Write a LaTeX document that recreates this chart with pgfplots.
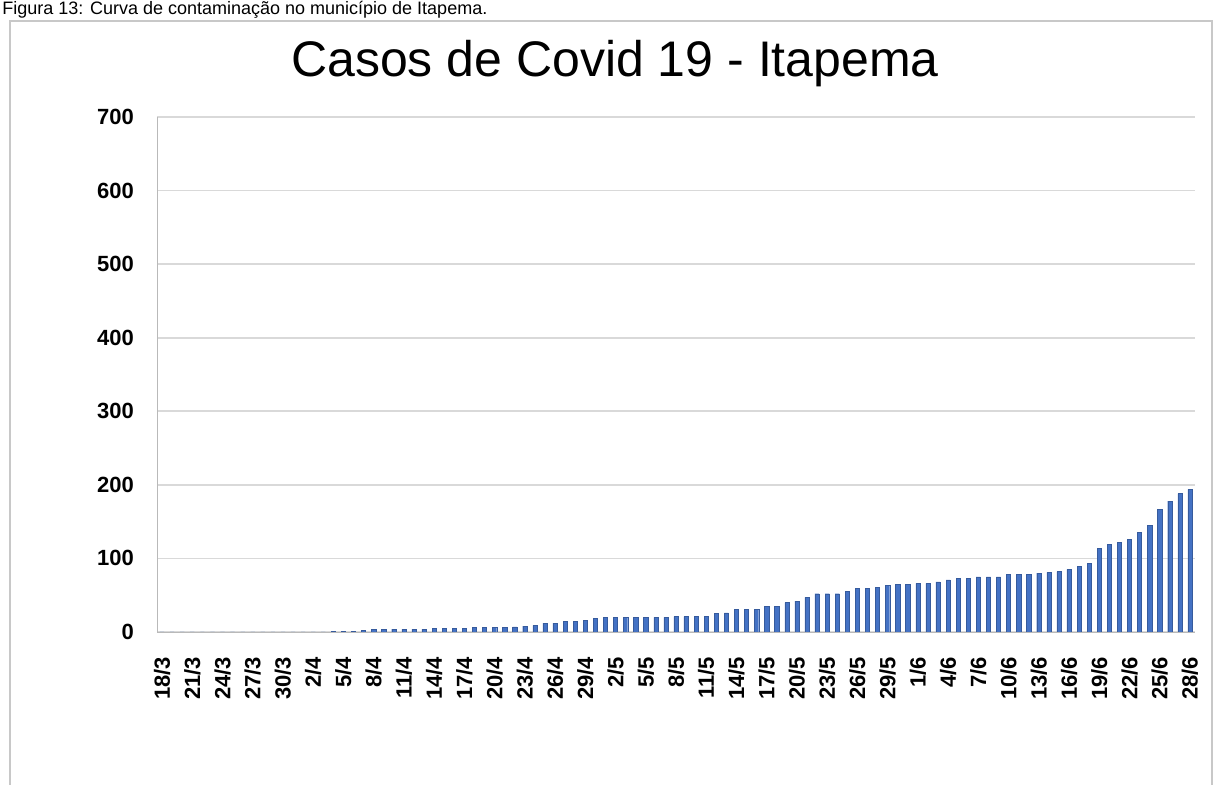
\documentclass[border=0pt]{standalone}
\usepackage{fontspec}
\setmainfont{Liberation Sans}
\usepackage{pgfplots}
\usepackage{pgfplotstable}
\pgfplotsset{compat=1.18}
\definecolor{barblue}{HTML}{4472C4}
\definecolor{gridgray}{HTML}{D9D9D9}
\definecolor{framegray}{HTML}{C8C8C8}

% cumulative cases, day 0 = 18/3 ... day 102 = 28/6
\pgfplotstableread{
day cases
0 0
1 0
2 0
3 0
4 0
5 0
6 0
7 0
8 0
9 0
10 0
11 0
12 0
13 0
14 0
15 0
16 0
17 1
18 1
19 1
20 2
21 4
22 4
23 4
24 4
25 4
26 4
27 5
28 5
29 5
30 5
31 6
32 6
33 6
34 6
35 7
36 8
37 9
38 12
39 12
40 14
41 14
42 16
43 19
44 20
45 20
46 20
47 20
48 20
49 20
50 20
51 21
52 21
53 21
54 21
55 25
56 26
57 31
58 31
59 31
60 35
61 35
62 40
63 42
64 47
65 52
66 52
67 52
68 55
69 59
70 59
71 61
72 63
73 65
74 65
75 66
76 66
77 68
78 71
79 73
80 73
81 75
82 75
83 75
84 78
85 78
86 78
87 80
88 81
89 82
90 85
91 89
92 93
93 114
94 119
95 122
96 126
97 135
98 145
99 167
100 178
101 188
102 194
}\casos

\begin{document}
\begin{tikzpicture}
\useasboundingbox (0,0) rectangle (607.5pt,392.5pt);
% caption above the chart
\node[anchor=base west, inner sep=0, font=\fontsize{9}{11}\selectfont]
  at (1pt,385.3pt) {Figura 13: Curva de contaminação no município de Itapema.};
% chart area frame
\draw[framegray, line width=1.2pt] (5pt,-5pt) -- (5pt,382pt) -- (606pt,382pt) -- (606pt,-5pt);
\node[anchor=base, inner sep=0, font=\fontsize{25}{30}\selectfont]
  at (307.5pt,354pt) {Casos de Covid 19 - Itapema};

\begin{axis}[
    at={(78.5pt,76.5pt)}, anchor=south west,
    scale only axis,
    width=519pt, height=257.5pt,
    ybar, bar width=2.1pt,
    xmin=-0.5, xmax=102.5,
    ymin=0, ymax=700,
    ytick={0,100,...,700},
    xtick={0,3,...,102},
    xticklabels={18/3,21/3,24/3,27/3,30/3,2/4,5/4,8/4,11/4,14/4,17/4,20/4,23/4,26/4,29/4,2/5,5/5,8/5,11/5,14/5,17/5,20/5,23/5,26/5,29/5,1/6,4/6,7/6,10/6,13/6,16/6,19/6,22/6,25/6,28/6},
    axis x line=bottom, axis y line=left,
    axis line style={-, draw=gray!55},
    major tick length=0pt,
    ymajorgrids, grid style={gridgray, line width=0.8pt},
    /pgf/number format/assume math mode=true,
    yticklabel style={font=\bfseries\fontsize{11}{13}\selectfont},
    yticklabel shift=8pt,
    xticklabel style={rotate=90, anchor=east, font=\bfseries\fontsize{11}{13}\selectfont},
    xticklabel shift=9pt,
]
\addplot[fill=barblue, draw=barblue!80!black, line width=0.2pt] table[x=day, y=cases] {\casos};
\end{axis}
\end{tikzpicture}
\end{document}
